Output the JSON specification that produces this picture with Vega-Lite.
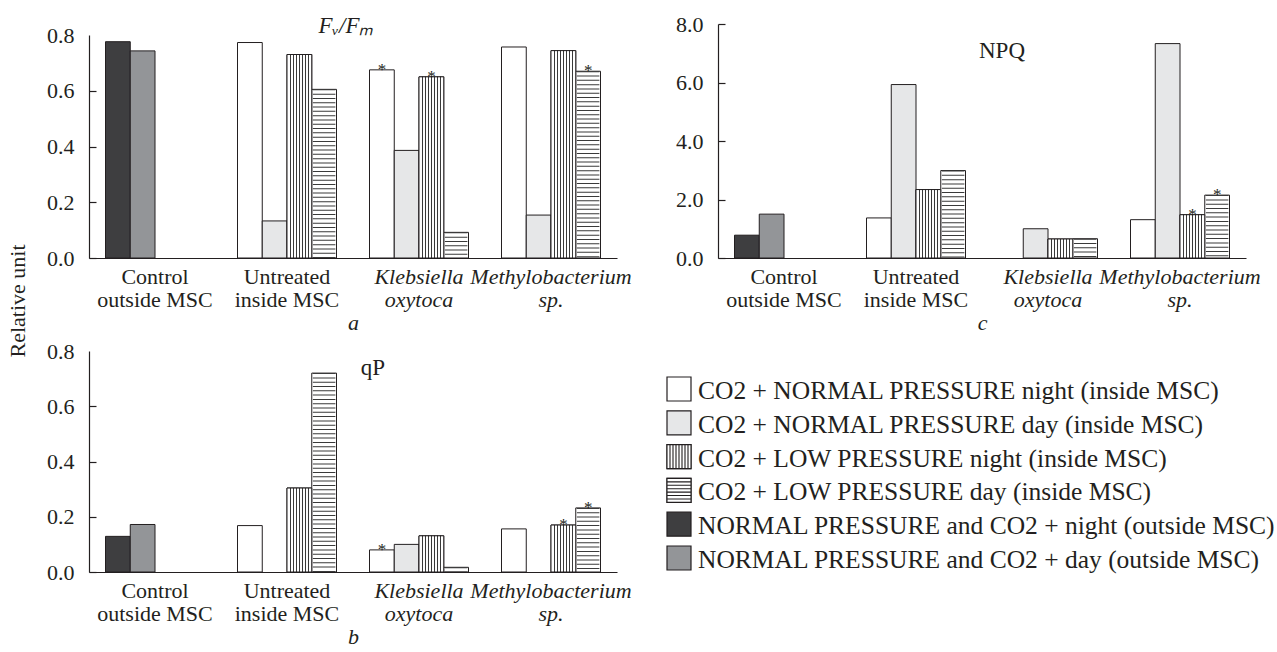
{
  "$schema": "https://vega.github.io/schema/vega-lite/v6.json",
  "background": "white",
  "padding": {"left": 6, "top": 13, "right": 0, "bottom": 0},
  "title": {"text": "Relative unit", "orient": "left", "anchor": "middle", "fontSize": 22, "font": "Liberation Serif", "fontWeight": "normal", "color": "#231f20", "offset": 17, "dx": 29},
  "datasets": {
    "bars": [
      {"panel": "a", "group": "Control outside MSC", "cond": "NP night", "series": "NORMAL PRESSURE and CO2 + night (outside MSC)", "value": 0.776, "star": false},
      {"panel": "a", "group": "Control outside MSC", "cond": "NP day", "series": "NORMAL PRESSURE and CO2 + day (outside MSC)", "value": 0.743, "star": false},
      {"panel": "a", "group": "Untreated inside MSC", "cond": "NP night", "series": "CO2 + NORMAL PRESSURE night (inside MSC)", "value": 0.773, "star": false},
      {"panel": "a", "group": "Untreated inside MSC", "cond": "NP day", "series": "CO2 + NORMAL PRESSURE day (inside MSC)", "value": 0.133, "star": false},
      {"panel": "a", "group": "Untreated inside MSC", "cond": "LP night", "series": "CO2 + LOW PRESSURE night (inside MSC)", "value": 0.730, "star": false},
      {"panel": "a", "group": "Untreated inside MSC", "cond": "LP day", "series": "CO2 + LOW PRESSURE day (inside MSC)", "value": 0.605, "star": false},
      {"panel": "a", "group": "Klebsiella oxytoca", "cond": "NP night", "series": "CO2 + NORMAL PRESSURE night (inside MSC)", "value": 0.675, "star": true},
      {"panel": "a", "group": "Klebsiella oxytoca", "cond": "NP day", "series": "CO2 + NORMAL PRESSURE day (inside MSC)", "value": 0.386, "star": false},
      {"panel": "a", "group": "Klebsiella oxytoca", "cond": "LP night", "series": "CO2 + LOW PRESSURE night (inside MSC)", "value": 0.650, "star": true},
      {"panel": "a", "group": "Klebsiella oxytoca", "cond": "LP day", "series": "CO2 + LOW PRESSURE day (inside MSC)", "value": 0.092, "star": false},
      {"panel": "a", "group": "Methylobacterium sp.", "cond": "NP night", "series": "CO2 + NORMAL PRESSURE night (inside MSC)", "value": 0.757, "star": false},
      {"panel": "a", "group": "Methylobacterium sp.", "cond": "NP day", "series": "CO2 + NORMAL PRESSURE day (inside MSC)", "value": 0.154, "star": false},
      {"panel": "a", "group": "Methylobacterium sp.", "cond": "LP night", "series": "CO2 + LOW PRESSURE night (inside MSC)", "value": 0.744, "star": false},
      {"panel": "a", "group": "Methylobacterium sp.", "cond": "LP day", "series": "CO2 + LOW PRESSURE day (inside MSC)", "value": 0.670, "star": true},

      {"panel": "c", "group": "Control outside MSC", "cond": "NP night", "series": "NORMAL PRESSURE and CO2 + night (outside MSC)", "value": 0.78, "star": false},
      {"panel": "c", "group": "Control outside MSC", "cond": "NP day", "series": "NORMAL PRESSURE and CO2 + day (outside MSC)", "value": 1.50, "star": false},
      {"panel": "c", "group": "Untreated inside MSC", "cond": "NP night", "series": "CO2 + NORMAL PRESSURE night (inside MSC)", "value": 1.37, "star": false},
      {"panel": "c", "group": "Untreated inside MSC", "cond": "NP day", "series": "CO2 + NORMAL PRESSURE day (inside MSC)", "value": 5.93, "star": false},
      {"panel": "c", "group": "Untreated inside MSC", "cond": "LP night", "series": "CO2 + LOW PRESSURE night (inside MSC)", "value": 2.34, "star": false},
      {"panel": "c", "group": "Untreated inside MSC", "cond": "LP day", "series": "CO2 + LOW PRESSURE day (inside MSC)", "value": 2.99, "star": false},
      {"panel": "c", "group": "Klebsiella oxytoca", "cond": "NP day", "series": "CO2 + NORMAL PRESSURE day (inside MSC)", "value": 1.00, "star": false},
      {"panel": "c", "group": "Klebsiella oxytoca", "cond": "LP night", "series": "CO2 + LOW PRESSURE night (inside MSC)", "value": 0.65, "star": false},
      {"panel": "c", "group": "Klebsiella oxytoca", "cond": "LP day", "series": "CO2 + LOW PRESSURE day (inside MSC)", "value": 0.66, "star": false},
      {"panel": "c", "group": "Methylobacterium sp.", "cond": "NP night", "series": "CO2 + NORMAL PRESSURE night (inside MSC)", "value": 1.31, "star": false},
      {"panel": "c", "group": "Methylobacterium sp.", "cond": "NP day", "series": "CO2 + NORMAL PRESSURE day (inside MSC)", "value": 7.33, "star": false},
      {"panel": "c", "group": "Methylobacterium sp.", "cond": "LP night", "series": "CO2 + LOW PRESSURE night (inside MSC)", "value": 1.48, "star": true},
      {"panel": "c", "group": "Methylobacterium sp.", "cond": "LP day", "series": "CO2 + LOW PRESSURE day (inside MSC)", "value": 2.15, "star": true},

      {"panel": "b", "group": "Control outside MSC", "cond": "NP night", "series": "NORMAL PRESSURE and CO2 + night (outside MSC)", "value": 0.129, "star": false},
      {"panel": "b", "group": "Control outside MSC", "cond": "NP day", "series": "NORMAL PRESSURE and CO2 + day (outside MSC)", "value": 0.172, "star": false},
      {"panel": "b", "group": "Untreated inside MSC", "cond": "NP night", "series": "CO2 + NORMAL PRESSURE night (inside MSC)", "value": 0.168, "star": false},
      {"panel": "b", "group": "Untreated inside MSC", "cond": "LP night", "series": "CO2 + LOW PRESSURE night (inside MSC)", "value": 0.304, "star": false},
      {"panel": "b", "group": "Untreated inside MSC", "cond": "LP day", "series": "CO2 + LOW PRESSURE day (inside MSC)", "value": 0.720, "star": false},
      {"panel": "b", "group": "Klebsiella oxytoca", "cond": "NP night", "series": "CO2 + NORMAL PRESSURE night (inside MSC)", "value": 0.080, "star": true},
      {"panel": "b", "group": "Klebsiella oxytoca", "cond": "NP day", "series": "CO2 + NORMAL PRESSURE day (inside MSC)", "value": 0.100, "star": false},
      {"panel": "b", "group": "Klebsiella oxytoca", "cond": "LP night", "series": "CO2 + LOW PRESSURE night (inside MSC)", "value": 0.131, "star": false},
      {"panel": "b", "group": "Klebsiella oxytoca", "cond": "LP day", "series": "CO2 + LOW PRESSURE day (inside MSC)", "value": 0.017, "star": false},
      {"panel": "b", "group": "Methylobacterium sp.", "cond": "NP night", "series": "CO2 + NORMAL PRESSURE night (inside MSC)", "value": 0.156, "star": false},
      {"panel": "b", "group": "Methylobacterium sp.", "cond": "LP night", "series": "CO2 + LOW PRESSURE night (inside MSC)", "value": 0.170, "star": true},
      {"panel": "b", "group": "Methylobacterium sp.", "cond": "LP day", "series": "CO2 + LOW PRESSURE day (inside MSC)", "value": 0.232, "star": true}
    ]
  },
  "data": {"name": "bars"},
  "vconcat": [
    {
      "spacing": 43,
      "hconcat": [
        {
          "width": 528, "height": 234,
          "title": {"text": "Fᵥ/Fₘ", "fontStyle": "italic", "fontSize": 23, "font": "Liberation Serif", "fontWeight": "normal", "color": "#231f20", "anchor": "middle", "dx": -7, "offset": -14},
          "transform": [{"filter": "datum.panel === 'a'"}],
          "encoding": {
            "x": {"field": "group", "type": "nominal", "scale": {"domain": ["Control outside MSC", "Untreated inside MSC", "Klebsiella oxytoca", "Methylobacterium sp."], "paddingInner": 0.25, "paddingOuter": 0.125},
              "axis": {"title": "a", "titleFontStyle": "italic", "labelAngle": 0, "labelPadding": 8, "labelLineHeight": 23, "labelBaseline": "top", "titlePadding": 2,
                "labelExpr": "datum.value === 'Control outside MSC' ? ['Control','outside MSC'] : datum.value === 'Untreated inside MSC' ? ['Untreated','inside MSC'] : datum.value === 'Klebsiella oxytoca' ? ['Klebsiella','oxytoca'] : ['Methylobacterium','sp.']",
                "labelFontStyle": {"condition": {"test": "datum.value === 'Klebsiella oxytoca' || datum.value === 'Methylobacterium sp.'", "value": "italic"}, "value": "normal"}}},
            "xOffset": {"field": "cond", "type": "nominal", "scale": {"domain": ["NP night", "NP day", "LP night", "LP day"], "paddingInner": 0, "paddingOuter": 0}},
            "y": {"field": "value", "type": "quantitative", "scale": {"domain": [0, 0.8], "nice": false, "range": [234, 11]},
              "axis": {"title": null, "values": [0, 0.2, 0.4, 0.6, 0.8], "format": ".1f", "grid": true, "gridDash": [7, 3000], "gridColor": "#231f20", "gridWidth": 1.2, "gridOpacity": {"condition": {"test": "datum.value > 0.7", "value": 0}, "value": 1}, "ticks": false, "labelPadding": 15}}
          },
          "layer": [
            {"mark": {"type": "bar", "stroke": "#231f20", "strokeWidth": 1},
             "encoding": {"fill": {"field": "series", "type": "nominal",
               "scale": {"domain": ["CO2 + NORMAL PRESSURE night (inside MSC)", "CO2 + NORMAL PRESSURE day (inside MSC)", "CO2 + LOW PRESSURE night (inside MSC)", "CO2 + LOW PRESSURE day (inside MSC)", "NORMAL PRESSURE and CO2 + night (outside MSC)", "NORMAL PRESSURE and CO2 + day (outside MSC)"],
                 "range": ["#ffffff", "#e6e7e8", "#ffffff", "#ffffff", "#3e3e40", "#939598"]},
               "legend": null}}},
            {"transform": [{"filter": "datum.cond === 'LP night'"}],
             "mark": {"type": "bar", "stroke": "#231f20", "strokeWidth": 1,
               "fill": {"gradient": "linear", "x1": 0, "y1": 0, "x2": 1, "y2": 0, "stops": [{"offset": 0, "color": "#ffffff"}, {"offset": 0.105, "color": "#ffffff"}, {"offset": 0.105, "color": "#3a3a3a"}, {"offset": 0.145, "color": "#3a3a3a"}, {"offset": 0.145, "color": "#ffffff"}, {"offset": 0.23, "color": "#ffffff"}, {"offset": 0.23, "color": "#3a3a3a"}, {"offset": 0.27, "color": "#3a3a3a"}, {"offset": 0.27, "color": "#ffffff"}, {"offset": 0.355, "color": "#ffffff"}, {"offset": 0.355, "color": "#3a3a3a"}, {"offset": 0.395, "color": "#3a3a3a"}, {"offset": 0.395, "color": "#ffffff"}, {"offset": 0.48, "color": "#ffffff"}, {"offset": 0.48, "color": "#3a3a3a"}, {"offset": 0.52, "color": "#3a3a3a"}, {"offset": 0.52, "color": "#ffffff"}, {"offset": 0.605, "color": "#ffffff"}, {"offset": 0.605, "color": "#3a3a3a"}, {"offset": 0.645, "color": "#3a3a3a"}, {"offset": 0.645, "color": "#ffffff"}, {"offset": 0.73, "color": "#ffffff"}, {"offset": 0.73, "color": "#3a3a3a"}, {"offset": 0.77, "color": "#3a3a3a"}, {"offset": 0.77, "color": "#ffffff"}, {"offset": 0.855, "color": "#ffffff"}, {"offset": 0.855, "color": "#3a3a3a"}, {"offset": 0.895, "color": "#3a3a3a"}, {"offset": 0.895, "color": "#ffffff"}, {"offset": 1, "color": "#ffffff"}]}},
             "encoding": {}},
            {"transform": [{"filter": "datum.cond === 'LP day'"}],
             "mark": {"type": "rule", "strokeWidth": 22.5, "strokeDash": [1, 3.3], "strokeCap": "butt", "color": "#3a3a3a"},
             "encoding": {"y2": {"datum": 0}}},
            {"transform": [{"filter": "datum.star === true"}],
             "mark": {"type": "text", "text": "*", "fontSize": 17, "font": "Liberation Serif", "baseline": "alphabetic", "dy": 5, "color": "#231f20", "fill": "#231f20"},
             "encoding": {}}
          ]
        },
        {
          "width": 528, "height": 234,
          "title": {"text": "NPQ", "fontSize": 23, "font": "Liberation Serif", "fontWeight": "normal", "color": "#231f20", "anchor": "middle", "dx": 20, "offset": -50},
          "transform": [{"filter": "datum.panel === 'c'"}],
          "encoding": {
            "x": {"field": "group", "type": "nominal", "scale": {"domain": ["Control outside MSC", "Untreated inside MSC", "Klebsiella oxytoca", "Methylobacterium sp."], "paddingInner": 0.25, "paddingOuter": 0.125},
              "axis": {"title": "c", "titleFontStyle": "italic", "labelAngle": 0, "labelPadding": 8, "labelLineHeight": 23, "labelBaseline": "top", "titlePadding": 2,
                "labelExpr": "datum.value === 'Control outside MSC' ? ['Control','outside MSC'] : datum.value === 'Untreated inside MSC' ? ['Untreated','inside MSC'] : datum.value === 'Klebsiella oxytoca' ? ['Klebsiella','oxytoca'] : ['Methylobacterium','sp.']",
                "labelFontStyle": {"condition": {"test": "datum.value === 'Klebsiella oxytoca' || datum.value === 'Methylobacterium sp.'", "value": "italic"}, "value": "normal"}}},
            "xOffset": {"field": "cond", "type": "nominal", "scale": {"domain": ["NP night", "NP day", "LP night", "LP day"], "paddingInner": 0, "paddingOuter": 0}},
            "y": {"field": "value", "type": "quantitative", "scale": {"domain": [0, 8], "nice": false},
              "axis": {"title": null, "values": [0, 2, 4, 6, 8], "format": ".1f", "grid": true, "gridDash": [7, 3000], "gridColor": "#231f20", "gridWidth": 1.2, "ticks": false, "labelPadding": 15}}
          },
          "layer": [
            {"mark": {"type": "bar", "stroke": "#231f20", "strokeWidth": 1},
             "encoding": {"fill": {"field": "series", "type": "nominal", "legend": null}}},
            {"transform": [{"filter": "datum.cond === 'LP night'"}],
             "mark": {"type": "bar", "stroke": "#231f20", "strokeWidth": 1,
               "fill": {"gradient": "linear", "x1": 0, "y1": 0, "x2": 1, "y2": 0, "stops": [{"offset": 0, "color": "#ffffff"}, {"offset": 0.105, "color": "#ffffff"}, {"offset": 0.105, "color": "#3a3a3a"}, {"offset": 0.145, "color": "#3a3a3a"}, {"offset": 0.145, "color": "#ffffff"}, {"offset": 0.23, "color": "#ffffff"}, {"offset": 0.23, "color": "#3a3a3a"}, {"offset": 0.27, "color": "#3a3a3a"}, {"offset": 0.27, "color": "#ffffff"}, {"offset": 0.355, "color": "#ffffff"}, {"offset": 0.355, "color": "#3a3a3a"}, {"offset": 0.395, "color": "#3a3a3a"}, {"offset": 0.395, "color": "#ffffff"}, {"offset": 0.48, "color": "#ffffff"}, {"offset": 0.48, "color": "#3a3a3a"}, {"offset": 0.52, "color": "#3a3a3a"}, {"offset": 0.52, "color": "#ffffff"}, {"offset": 0.605, "color": "#ffffff"}, {"offset": 0.605, "color": "#3a3a3a"}, {"offset": 0.645, "color": "#3a3a3a"}, {"offset": 0.645, "color": "#ffffff"}, {"offset": 0.73, "color": "#ffffff"}, {"offset": 0.73, "color": "#3a3a3a"}, {"offset": 0.77, "color": "#3a3a3a"}, {"offset": 0.77, "color": "#ffffff"}, {"offset": 0.855, "color": "#ffffff"}, {"offset": 0.855, "color": "#3a3a3a"}, {"offset": 0.895, "color": "#3a3a3a"}, {"offset": 0.895, "color": "#ffffff"}, {"offset": 1, "color": "#ffffff"}]}},
             "encoding": {}},
            {"transform": [{"filter": "datum.cond === 'LP day'"}],
             "mark": {"type": "rule", "strokeWidth": 22.5, "strokeDash": [1, 3.3], "strokeCap": "butt", "color": "#3a3a3a"},
             "encoding": {"y2": {"datum": 0}}},
            {"transform": [{"filter": "datum.star === true"}],
             "mark": {"type": "text", "text": "*", "fontSize": 17, "font": "Liberation Serif", "baseline": "alphabetic", "dy": 5, "color": "#231f20", "fill": "#231f20"},
             "encoding": {}}
          ]
        }
      ]
    },
    {
      "spacing": 32,
      "hconcat": [
        {
          "width": 528, "height": 221,
          "title": {"text": "qP", "fontSize": 23, "font": "Liberation Serif", "fontWeight": "normal", "color": "#231f20", "anchor": "middle", "dx": 20, "offset": -40},
          "transform": [{"filter": "datum.panel === 'b'"}],
          "encoding": {
            "x": {"field": "group", "type": "nominal", "scale": {"domain": ["Control outside MSC", "Untreated inside MSC", "Klebsiella oxytoca", "Methylobacterium sp."], "paddingInner": 0.25, "paddingOuter": 0.125},
              "axis": {"title": "b", "titleFontStyle": "italic", "labelAngle": 0, "labelPadding": 8, "labelLineHeight": 23, "labelBaseline": "top", "titlePadding": 2,
                "labelExpr": "datum.value === 'Control outside MSC' ? ['Control','outside MSC'] : datum.value === 'Untreated inside MSC' ? ['Untreated','inside MSC'] : datum.value === 'Klebsiella oxytoca' ? ['Klebsiella','oxytoca'] : ['Methylobacterium','sp.']",
                "labelFontStyle": {"condition": {"test": "datum.value === 'Klebsiella oxytoca' || datum.value === 'Methylobacterium sp.'", "value": "italic"}, "value": "normal"}}},
            "xOffset": {"field": "cond", "type": "nominal", "scale": {"domain": ["NP night", "NP day", "LP night", "LP day"], "paddingInner": 0, "paddingOuter": 0}},
            "y": {"field": "value", "type": "quantitative", "scale": {"domain": [0, 0.8], "nice": false},
              "axis": {"title": null, "values": [0, 0.2, 0.4, 0.6, 0.8], "format": ".1f", "grid": true, "gridDash": [7, 3000], "gridColor": "#231f20", "gridWidth": 1.2, "gridOpacity": {"condition": {"test": "datum.value > 0.7", "value": 0}, "value": 1}, "ticks": false, "labelPadding": 15}}
          },
          "layer": [
            {"mark": {"type": "bar", "stroke": "#231f20", "strokeWidth": 1},
             "encoding": {"fill": {"field": "series", "type": "nominal", "legend": null}}},
            {"transform": [{"filter": "datum.cond === 'LP night'"}],
             "mark": {"type": "bar", "stroke": "#231f20", "strokeWidth": 1,
               "fill": {"gradient": "linear", "x1": 0, "y1": 0, "x2": 1, "y2": 0, "stops": [{"offset": 0, "color": "#ffffff"}, {"offset": 0.105, "color": "#ffffff"}, {"offset": 0.105, "color": "#3a3a3a"}, {"offset": 0.145, "color": "#3a3a3a"}, {"offset": 0.145, "color": "#ffffff"}, {"offset": 0.23, "color": "#ffffff"}, {"offset": 0.23, "color": "#3a3a3a"}, {"offset": 0.27, "color": "#3a3a3a"}, {"offset": 0.27, "color": "#ffffff"}, {"offset": 0.355, "color": "#ffffff"}, {"offset": 0.355, "color": "#3a3a3a"}, {"offset": 0.395, "color": "#3a3a3a"}, {"offset": 0.395, "color": "#ffffff"}, {"offset": 0.48, "color": "#ffffff"}, {"offset": 0.48, "color": "#3a3a3a"}, {"offset": 0.52, "color": "#3a3a3a"}, {"offset": 0.52, "color": "#ffffff"}, {"offset": 0.605, "color": "#ffffff"}, {"offset": 0.605, "color": "#3a3a3a"}, {"offset": 0.645, "color": "#3a3a3a"}, {"offset": 0.645, "color": "#ffffff"}, {"offset": 0.73, "color": "#ffffff"}, {"offset": 0.73, "color": "#3a3a3a"}, {"offset": 0.77, "color": "#3a3a3a"}, {"offset": 0.77, "color": "#ffffff"}, {"offset": 0.855, "color": "#ffffff"}, {"offset": 0.855, "color": "#3a3a3a"}, {"offset": 0.895, "color": "#3a3a3a"}, {"offset": 0.895, "color": "#ffffff"}, {"offset": 1, "color": "#ffffff"}]}},
             "encoding": {}},
            {"transform": [{"filter": "datum.cond === 'LP day'"}],
             "mark": {"type": "rule", "strokeWidth": 22.5, "strokeDash": [1, 3.3], "strokeCap": "butt", "color": "#3a3a3a"},
             "encoding": {"y2": {"datum": 0}}},
            {"transform": [{"filter": "datum.star === true"}],
             "mark": {"type": "text", "text": "*", "fontSize": 17, "font": "Liberation Serif", "baseline": "alphabetic", "dy": 5, "color": "#231f20", "fill": "#231f20"},
             "encoding": {}}
          ]
        },
        {
          "width": 24, "height": 245,
          "transform": [{"aggregate": [{"op": "count", "as": "n"}], "groupby": ["series"]}],
          "encoding": {
            "y": {"field": "series", "type": "nominal", "scale": {"type": "point", "domain": ["CO2 + NORMAL PRESSURE night (inside MSC)", "CO2 + NORMAL PRESSURE day (inside MSC)", "CO2 + LOW PRESSURE night (inside MSC)", "CO2 + LOW PRESSURE day (inside MSC)", "NORMAL PRESSURE and CO2 + night (outside MSC)", "NORMAL PRESSURE and CO2 + day (outside MSC)"], "range": [38, 207], "padding": 0}, "axis": null}
          },
          "layer": [
            {"mark": {"type": "square", "size": 576, "filled": true, "opacity": 1, "stroke": "#231f20", "strokeWidth": 1.2},
             "encoding": {"fill": {"field": "series", "type": "nominal", "legend": null}}},
            {"transform": [{"filter": "datum.series === 'CO2 + LOW PRESSURE night (inside MSC)'"}],
             "mark": {"type": "point", "shape": "M-1,-1H1V1H-1Z M-0.75,-1V1 M-0.5,-1V1 M-0.25,-1V1 M0,-1V1 M0.25,-1V1 M0.5,-1V1 M0.75,-1V1", "size": 576, "filled": true, "fill": "#ffffff", "opacity": 1, "stroke": "#231f20", "strokeWidth": 1.1},
             "encoding": {}},
            {"transform": [{"filter": "datum.series === 'CO2 + LOW PRESSURE day (inside MSC)'"}],
             "mark": {"type": "point", "shape": "M-1,-1H1V1H-1Z M-1,-0.714H1 M-1,-0.428H1 M-1,-0.143H1 M-1,0.143H1 M-1,0.428H1 M-1,0.714H1", "size": 576, "filled": true, "fill": "#ffffff", "opacity": 1, "stroke": "#231f20", "strokeWidth": 1.1},
             "encoding": {}},
            {"mark": {"type": "text", "align": "left", "baseline": "middle", "dx": 19, "dy": 2, "fontSize": 25.5, "font": "Liberation Serif", "color": "#231f20", "fill": "#231f20"},
             "encoding": {"text": {"field": "series", "type": "nominal"}}}
          ]
        }
      ]
    }
  ],
  "spacing": 7,
  "config": {
    "view": {"stroke": null},
    "font": "Liberation Serif",
    "axis": {"domainColor": "#231f20", "domainWidth": 1.2, "labelFont": "Liberation Serif", "labelFontSize": 22, "labelColor": "#231f20", "titleFont": "Liberation Serif", "titleFontSize": 22, "titleFontWeight": "normal", "titleColor": "#231f20", "ticks": false, "grid": false, "labelOverlap": false}
  }
}
